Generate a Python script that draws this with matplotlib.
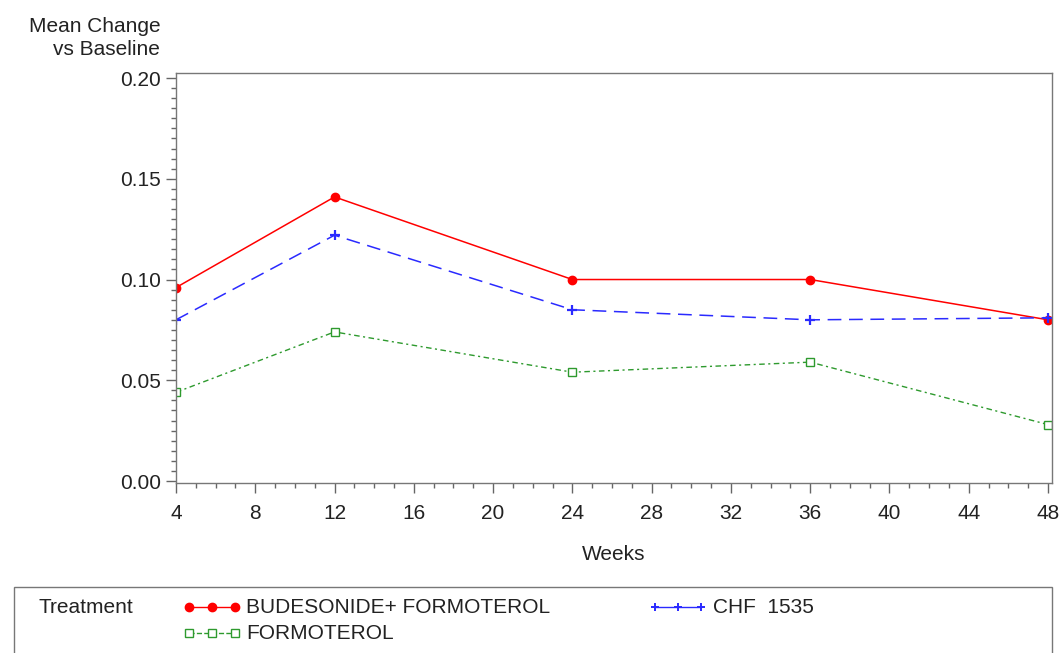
import matplotlib; matplotlib.use('Agg')
import matplotlib.pyplot as plt
from matplotlib.lines import Line2D
from matplotlib.patches import Rectangle
from matplotlib.ticker import MultipleLocator

plt.rcParams.update({'font.family': ['Liberation Sans', 'DejaVu Sans'], 'font.size': 15})

weeks = [4, 12, 24, 36, 48]
bud_form = [0.096, 0.141, 0.100, 0.100, 0.080]
chf1535 = [0.080, 0.122, 0.085, 0.080, 0.081]
formoterol = [0.044, 0.074, 0.054, 0.059, 0.028]
x_ticks = [4, 8, 12, 16, 20, 24, 28, 32, 36, 40, 44, 48]
y_ticks = [0.00, 0.05, 0.10, 0.15, 0.20]

RED = '#ff0000'
BLUE = '#2a2aff'
GREEN = '#2e9a2e'
TXT = '#222222'

fig = plt.figure(figsize=(10.62, 6.53), dpi=100)
ax = fig.add_axes([0.1657, 0.2603, 0.8249, 0.6279])

ax.plot(weeks, bud_form, color=RED, lw=1.1, ls='-', marker='o', ms=6,
        mfc=RED, mec=RED)
ax.plot(weeks, chf1535, color=BLUE, lw=1.1, ls=(0, (9, 5)), marker='+', ms=7,
        mew=1.6, mec=BLUE)
ax.plot(weeks, formoterol, color=GREEN, lw=1.0, ls=(0, (4, 2.5, 1.5, 2.5)),
        marker='s', ms=6, mfc='white', mec=GREEN, mew=1.0)

ax.set_xlim(4, 48.2)
ax.set_ylim(-0.001, 0.2025)
ax.set_xticks(x_ticks)
ax.set_yticks(y_ticks)
ax.set_yticklabels([f'{v:.2f}' for v in y_ticks])
ax.xaxis.set_minor_locator(MultipleLocator(1))
ax.yaxis.set_minor_locator(MultipleLocator(0.005))
ax.tick_params(which='major', direction='out', length=7, width=1, labelsize=15,
               color='#666666', labelcolor=TXT)
ax.tick_params(axis='x', which='major', pad=8)
ax.tick_params(axis='y', which='major', pad=4)
ax.tick_params(which='minor', direction='out', length=3.5, width=1, color='#666666')
for s in ax.spines.values():
    s.set_color('#777777')
    s.set_linewidth(1.0)

ax.set_xlabel('Weeks', fontsize=15, labelpad=16, color=TXT)
fig.text(0.151, 0.942, 'Mean Change\nvs Baseline', ha='right', va='center',
         fontsize=15, linespacing=1.25, color=TXT)

# legend frame
fig.add_artist(Rectangle((0.0132, -0.01), 0.9774, 0.1105, transform=fig.transFigure,
                         fill=False, edgecolor='#777777', lw=1.0))
fig.text(0.036, 0.070, 'Treatment', fontsize=15, va='center', ha='left', color=TXT)

def sample(x0, y, color, ls, marker, mfc, ms, mew=1.0):
    xs = [x0, x0 + 0.0215, x0 + 0.043]
    fig.add_artist(Line2D(xs, [y] * 3, transform=fig.transFigure, color=color, ls=ls,
                          lw=1.0, marker=marker, ms=ms, mfc=mfc, mec=color, mew=mew))

sample(0.178, 0.071, RED, '-', 'o', RED, 6)
fig.text(0.232, 0.070, 'BUDESONIDE+ FORMOTEROL', fontsize=15, va='center', color=TXT)
sample(0.617, 0.071, BLUE, '-', '+', BLUE, 6, 1.4)
fig.text(0.671, 0.070, 'CHF  1535', fontsize=15, va='center', color=TXT)
sample(0.178, 0.031, GREEN, '--', 's', 'white', 5.5)
fig.text(0.232, 0.030, 'FORMOTEROL', fontsize=15, va='center', color=TXT)

fig.savefig('out.png', dpi=100)
